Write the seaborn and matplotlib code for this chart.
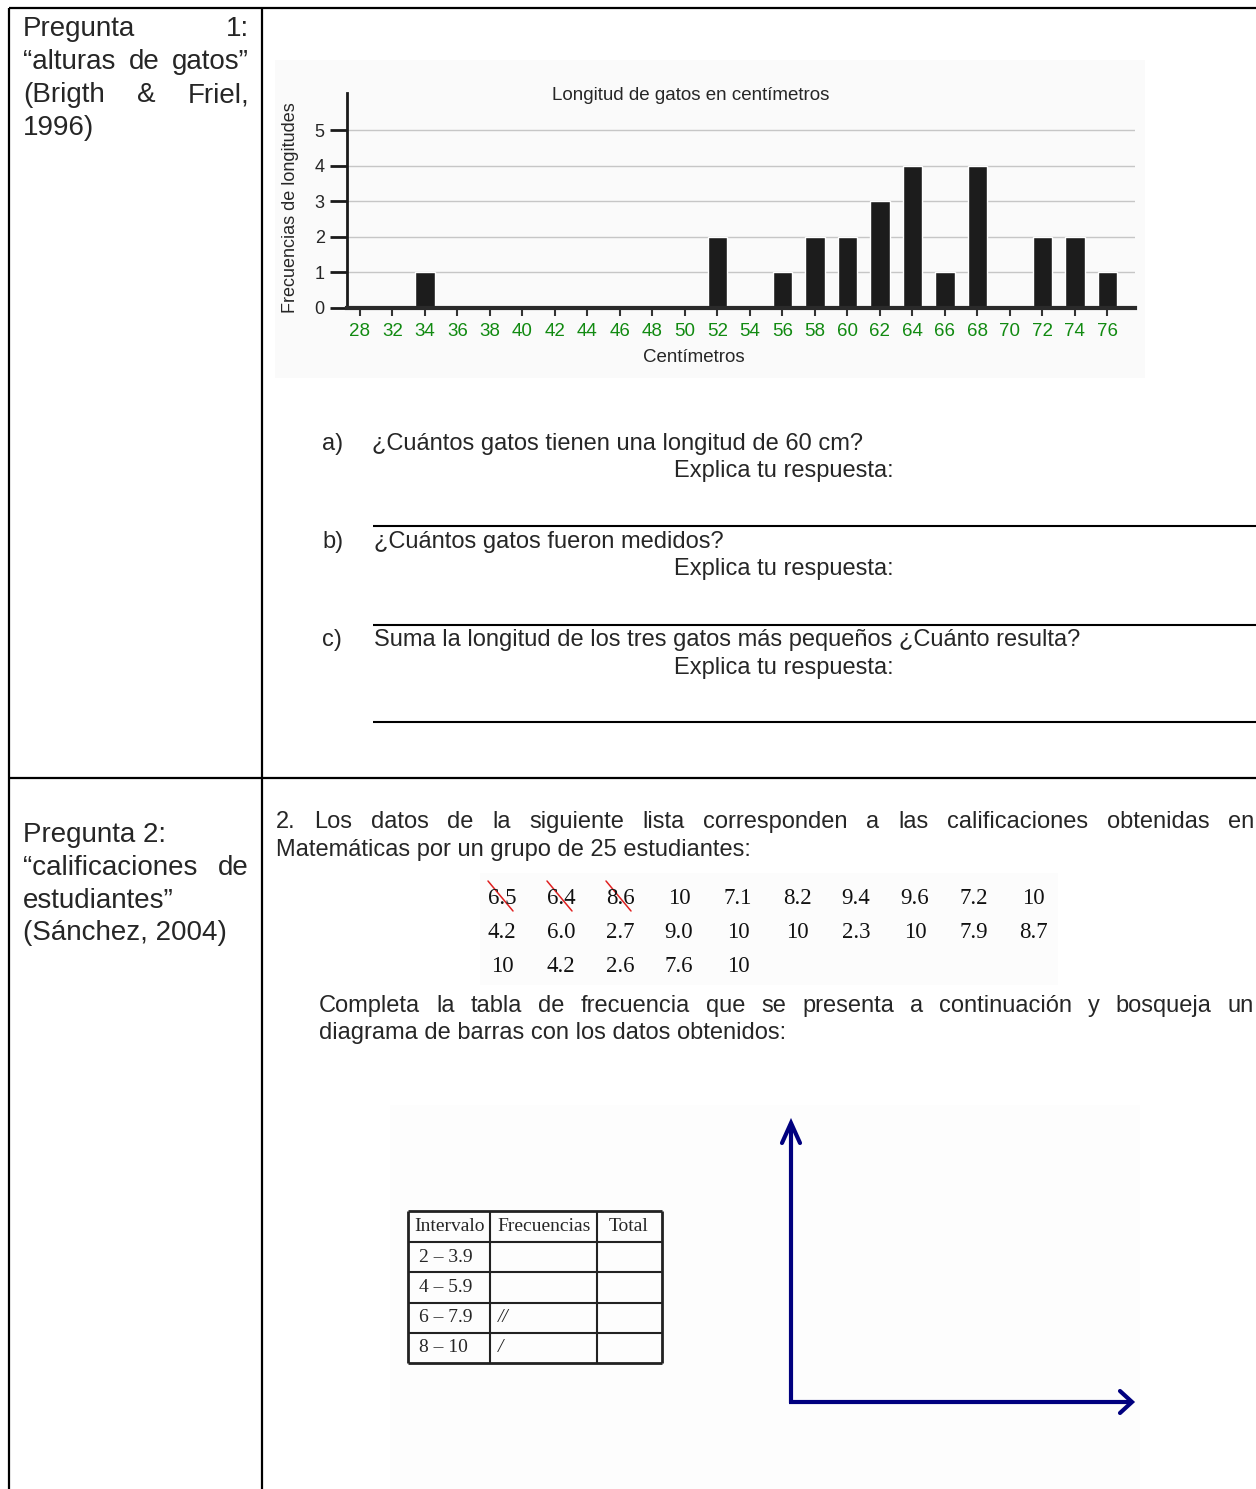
import matplotlib
matplotlib.use("Agg")
import matplotlib.pyplot as plt
import seaborn as sns
import pandas as pd
from matplotlib.patches import Rectangle

# ---------------- data ----------------
lengths = ["28", "32", "34", "36", "38", "40", "42", "44", "46", "48", "50", "52",
           "54", "56", "58", "60", "62", "64", "66", "68", "70", "72", "74", "76"]
freqs = [0, 0, 1, 0, 0, 0, 0, 0, 0, 0, 0, 2,
         0, 1, 2, 2, 3, 4, 1, 4, 0, 2, 2, 1]
y_ticks = [0, 1, 2, 3, 4, 5]

grade_labels = ["6.5", "6.4", "8.6", "10", "7.1", "8.2", "9.4", "9.6", "7.2", "10",
                "4.2", "6.0", "2.7", "9.0", "10", "10", "2.3", "10", "7.9", "8.7",
                "10", "4.2", "2.6", "7.6", "10"]
crossed = [0, 1, 2]

table_header = ["Intervalo", "Frecuencias", "Total"]
intervals = ["2 – 3.9", "4 – 5.9", "6 – 7.9", "8 – 10"]
tallies = ["", "", "//", "/"]

chart_title = "Longitud de gatos en centímetros"
x_title = "Centímetros"
y_title = "Frecuencias de longitudes"

# ---------------- setup ----------------
W, H = 1256, 1489
sns.set_style("white")
plt.rcParams["font.family"] = ["Liberation Sans", "DejaVu Sans"]

fig = plt.figure(figsize=(W / 100, H / 100), dpi=100)
ax0 = fig.add_axes([0, 0, 1, 1])
ax0.set_xlim(0, W)
ax0.set_ylim(H, 0)
ax0.axis("off")
renderer = fig.canvas.get_renderer()

def hline(x0, x1, y, lw=1.6, color="black"):
    ax0.plot([x0, x1], [y, y], color=color, lw=lw, solid_capstyle="butt")

def vline(x, y0, y1, lw=1.6, color="black"):
    ax0.plot([x, x], [y0, y1], color=color, lw=lw, solid_capstyle="butt")

def txt(x, y, s, size=17, **kw):
    kw.setdefault("ha", "left")
    kw.setdefault("va", "baseline")
    return ax0.text(x, y, s, fontsize=size, **kw)

def justify(words, x0, x1, y, size=17, **kw):
    ts = [ax0.text(0, y, w, fontsize=size, ha="left", va="baseline", **kw) for w in words]
    widths = [t.get_window_extent(renderer).width for t in ts]
    gap = (x1 - x0 - sum(widths)) / max(len(words) - 1, 1)
    x = x0
    for t, w in zip(ts, widths):
        t.set_x(x)
        x += w + gap

# ---------------- outer table ----------------
hline(9, W, 8)
hline(9, W, 778)
vline(9, 8, H)
vline(262, 8, H)

# left column
L0, L1 = 23, 249
LS = 20
justify(["Pregunta", "1:"], L0, L1, 36, size=LS)
justify(["“alturas", "de", "gatos”"], L0, L1, 69, size=LS)
justify(["(Brigth", "&", "Friel,"], L0, L1, 102, size=LS)
txt(L0, 135, "1996)", size=LS)

txt(L0, 842, "Pregunta 2:", size=LS)
justify(["“calificaciones", "de"], L0, L1, 875, size=LS)
txt(L0, 908, "estudiantes”", size=LS)
txt(L0, 940, "(Sánchez, 2004)", size=LS)

# ---------------- chart ----------------
ax0.add_patch(Rectangle((275, 60), 870, 318, color="#fafafa", lw=0, zorder=0))

axc = fig.add_axes([347 / W, 1 - 308 / H, 788 / W, 215 / H])
axc.patch.set_alpha(0)
df = pd.DataFrame({"cm": lengths, "freq": freqs})
sns.barplot(data=df, x="cm", y="freq", order=lengths, color="#1c1c1c",
            saturation=1, width=0.6, ax=axc, zorder=3)
axc.set_xlim(-0.4, 23.85)
axc.set_ylim(0, 6.04)
axc.set_yticks(y_ticks)
axc.yaxis.grid(True, color="#c6c6c6", lw=1)
axc.xaxis.grid(False)
axc.set_axisbelow(True)
sns.despine(ax=axc)
axc.spines["left"].set(lw=2, color="#1a1a1a", zorder=4)
axc.spines["bottom"].set(lw=3, color="#2a2a2a", zorder=4)
axc.tick_params(axis="y", left=True, length=12, width=2, color="#1a1a1a",
                labelsize=13, pad=4)
axc.tick_params(axis="x", bottom=True, length=6, width=1.5, color="#333333",
                labelsize=13.5, labelcolor="#118a11", pad=5)
axc.set_xlabel(x_title, fontsize=13.5)
axc.xaxis.set_label_coords((694 - 347) / 788, -(349 - 308) / 215)
axc.set_ylabel(y_title, fontsize=13)
axc.yaxis.set_label_coords((299 - 347) / 788, (308 - 208) / 215)
ax0.text(691, 96, chart_title, ha="center", va="center", fontsize=13.5)

# ---------------- questions ----------------
QS = 17
txt(322, 450, "a)", size=QS)
txt(372, 450, "¿Cuántos gatos tienen una longitud de 60 cm?", size=QS)
txt(674, 477, "Explica tu respuesta:", size=QS)
hline(373, W, 526, lw=1.5)
txt(322, 548, "b)", size=QS)
txt(374, 548, "¿Cuántos gatos fueron medidos?", size=QS)
txt(674, 575, "Explica tu respuesta:", size=QS)
hline(373, W, 625, lw=1.5)
txt(322, 646, "c)", size=QS)
txt(374, 646, "Suma la longitud de los tres gatos más pequeños ¿Cuánto resulta?", size=QS)
txt(674, 674, "Explica tu respuesta:", size=QS)
hline(373, W, 722, lw=1.5)

# ---------------- section 2 ----------------
justify("2. Los datos de la siguiente lista corresponden a las calificaciones obtenidas en".split(),
        276, 1254, 828, size=QS)
txt(276, 856, "Matemáticas por un grupo de 25 estudiantes:", size=QS)

ax0.add_patch(Rectangle((480, 873), 578, 112, color="#fcfcfc", lw=0, zorder=0))
row_y = [899, 932, 967]
for i, lab in enumerate(grade_labels):
    r, c = divmod(i, 10)
    x = 502 + 59 * c
    ax0.text(x, row_y[r], lab, ha="center", va="center", fontsize=16.5,
             family=["Liberation Serif", "DejaVu Serif"], color="#111111")
    if i in crossed:
        ax0.plot([x - 14, x + 11], [881, 911], color="#e02020", lw=1.1)

justify("Completa la tabla de frecuencia que se presenta a continuación y bosqueja un".split(),
        319, 1254, 1012, size=QS)
txt(319, 1039, "diagrama de barras con los datos obtenidos:", size=QS)

# ---------------- frequency table & axes sketch ----------------
ax0.add_patch(Rectangle((390, 1105), 750, 384, color="#fdfdfd", lw=0, zorder=0))
col_x = [408, 490, 597, 662]
rows = [1211, 1242, 1272, 1303, 1333, 1363]
for k, y in enumerate(rows):
    hline(col_x[0], col_x[-1], y, lw=2.0 if k in (0, len(rows) - 1) else 1.5, color="#222222")
for k, x in enumerate(col_x):
    vline(x, rows[0], rows[-1], lw=2.0 if k in (0, len(col_x) - 1) else 1.5, color="#222222")
serif = ["Liberation Serif", "DejaVu Serif"]
TS = 14
hx = [414, 497, 609]
for x, s in zip(hx, table_header):
    ax0.text(x, (rows[0] + rows[1]) / 2, s, ha="left", va="center", fontsize=TS, family=serif)
for k, (iv, ta) in enumerate(zip(intervals, tallies)):
    yc = (rows[k + 1] + rows[k + 2]) / 2
    ax0.text(419, yc, iv, ha="left", va="center", fontsize=TS, family=serif)
    if ta:
        ax0.text(498, yc, ta, ha="left", va="center", fontsize=TS, family=serif,
                 style="italic")

navy = "#00007f"
ax0.plot([791, 791], [1403, 1124], color=navy, lw=3, solid_capstyle="butt")
ax0.plot([782, 791, 800], [1143, 1123, 1143], color=navy, lw=3, solid_joinstyle="miter")
ax0.plot([789, 1131], [1402, 1402], color=navy, lw=3, solid_capstyle="butt")
ax0.plot([1120, 1132, 1120], [1391, 1402, 1413], color=navy, lw=3, solid_joinstyle="miter")

fig.savefig("out.png", dpi=100)
